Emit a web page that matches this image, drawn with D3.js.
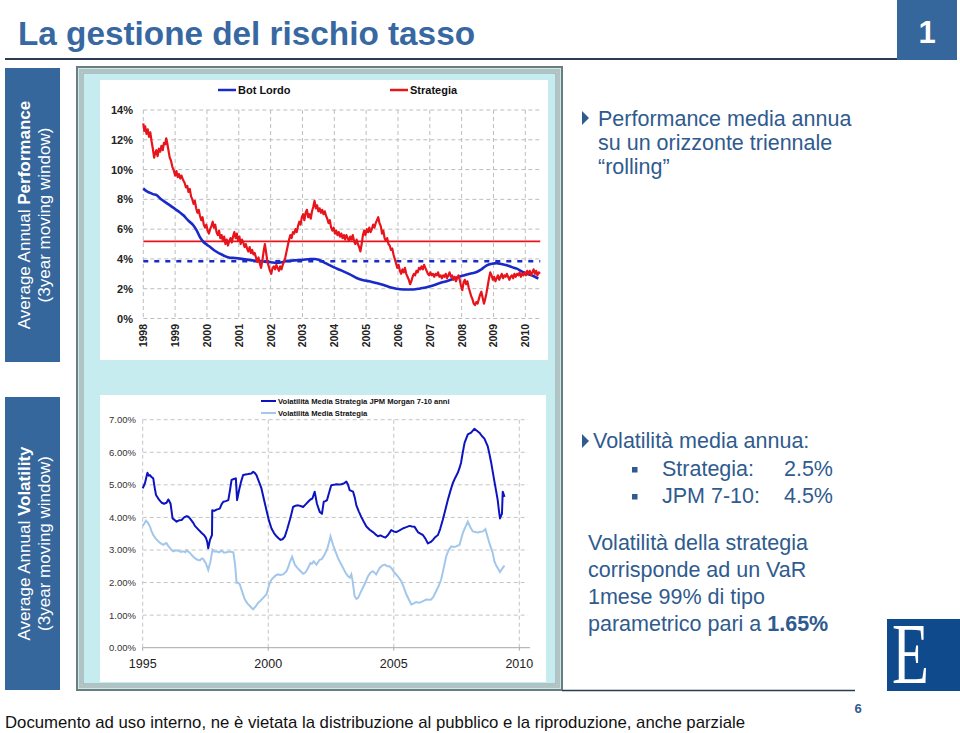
<!DOCTYPE html>
<html><head><meta charset="utf-8">
<script src="https://cdn.jsdelivr.net/npm/d3@7"></script>
<style>
html,body{margin:0;padding:0;background:#fff;}
svg{display:block;}
</style></head>
<body>
<svg id="c" width="960" height="733" font-family="'Liberation Sans',Arial,sans-serif"></svg>
<script>
// ---------- DATA ----------
const perfYears = [1998,1999,2000,2001,2002,2003,2004,2005,2006,2007,2008,2009,2010];
const perfTicks = [0,2,4,6,8,10,12,14];
const perfLegend = ["Bot Lordo","Strategia"];
const strategiaMean = 5.18;
const botMean = 3.84;
const botLordo = [[1998.00,8.73],[1998.10,8.55],[1998.20,8.45],[1998.30,8.35],[1998.42,8.28],[1998.55,8.02],[1998.70,7.80],[1998.84,7.60],[1999.00,7.35],[1999.13,7.15],[1999.26,6.93],[1999.40,6.60],[1999.57,6.26],[1999.68,5.90],[1999.78,5.47],[1999.90,5.12],[2000.00,4.95],[2000.10,4.80],[2000.25,4.55],[2000.41,4.35],[2000.55,4.20],[2000.72,4.08],[2000.88,4.06],[2001.04,4.02],[2001.20,3.97],[2001.36,3.92],[2001.55,3.88],[2001.77,3.83],[2002.00,3.78],[2002.19,3.74],[2002.35,3.78],[2002.50,3.86],[2002.75,3.90],[2003.03,3.95],[2003.20,3.98],[2003.39,4.00],[2003.52,3.93],[2003.66,3.79],[2003.85,3.58],[2004.08,3.35],[2004.30,3.15],[2004.49,2.96],[2004.70,2.72],[2004.91,2.57],[2005.10,2.50],[2005.33,2.38],[2005.55,2.25],[2005.75,2.10],[2005.95,2.00],[2006.17,1.95],[2006.48,1.95],[2006.70,2.02],[2006.90,2.10],[2007.10,2.22],[2007.32,2.38],[2007.55,2.52],[2007.74,2.67],[2007.95,2.82],[2008.16,2.96],[2008.32,3.04],[2008.47,3.12],[2008.62,3.30],[2008.79,3.57],[2008.95,3.68],[2009.10,3.72],[2009.25,3.66],[2009.42,3.57],[2009.58,3.45],[2009.73,3.35],[2009.90,3.15],[2010.05,3.00],[2010.25,2.85],[2010.41,2.67]];
const strategia = [[1998.00,13.1],[1998.03,12.6],[1998.06,12.9],[1998.10,12.4],[1998.14,12.7],[1998.18,12.2],[1998.22,12.5],[1998.26,11.9],[1998.30,11.4],[1998.34,10.8],[1998.37,11.1],[1998.41,11.3],[1998.45,10.9],[1998.49,11.4],[1998.53,11.2],[1998.57,11.6],[1998.61,11.3],[1998.65,11.8],[1998.69,11.7],[1998.72,12.1],[1998.75,11.8],[1998.79,11.3],[1998.83,10.8],[1998.87,10.6],[1998.91,10.2],[1998.95,10.0],[1999.00,9.6],[1999.04,9.9],[1999.08,9.5],[1999.12,9.7],[1999.16,9.4],[1999.20,9.6],[1999.25,9.3],[1999.30,9.1],[1999.34,8.8],[1999.38,8.9],[1999.42,8.5],[1999.46,8.7],[1999.50,8.2],[1999.54,8.0],[1999.58,7.7],[1999.62,7.9],[1999.66,7.4],[1999.70,7.1],[1999.74,7.3],[1999.78,6.9],[1999.82,6.6],[1999.86,6.8],[1999.90,6.3],[1999.94,6.1],[1999.98,6.3],[2000.02,5.9],[2000.06,5.7],[2000.10,6.0],[2000.14,6.2],[2000.18,6.5],[2000.22,6.1],[2000.26,6.3],[2000.30,5.8],[2000.34,5.6],[2000.38,5.9],[2000.42,5.4],[2000.46,5.6],[2000.50,5.2],[2000.54,5.5],[2000.58,5.0],[2000.62,5.3],[2000.66,4.9],[2000.70,5.2],[2000.74,5.4],[2000.78,5.1],[2000.82,5.5],[2000.86,5.8],[2000.90,5.4],[2000.94,5.7],[2000.98,5.2],[2001.02,5.5],[2001.06,5.0],[2001.10,5.3],[2001.14,5.1],[2001.18,4.8],[2001.22,5.0],[2001.26,4.7],[2001.30,4.5],[2001.34,4.8],[2001.38,4.4],[2001.42,4.6],[2001.46,4.3],[2001.50,4.4],[2001.54,4.1],[2001.58,3.8],[2001.62,4.1],[2001.66,3.7],[2001.70,3.4],[2001.74,3.9],[2001.78,4.5],[2001.82,5.0],[2001.86,4.4],[2001.90,3.8],[2001.94,3.5],[2001.98,3.2],[2002.02,3.0],[2002.06,3.4],[2002.10,3.5],[2002.14,3.3],[2002.18,3.6],[2002.22,3.4],[2002.26,3.2],[2002.30,3.5],[2002.34,3.3],[2002.38,3.6],[2002.42,3.8],[2002.46,4.1],[2002.50,4.5],[2002.54,4.9],[2002.58,5.3],[2002.62,5.6],[2002.66,5.4],[2002.70,5.8],[2002.74,5.7],[2002.78,6.0],[2002.82,5.8],[2002.86,6.2],[2002.90,6.5],[2002.94,6.3],[2002.98,6.8],[2003.02,7.0],[2003.06,6.6],[2003.10,7.1],[2003.14,7.3],[2003.18,6.8],[2003.22,7.0],[2003.26,6.7],[2003.30,7.2],[2003.34,7.5],[2003.38,7.9],[2003.42,7.4],[2003.46,7.6],[2003.50,7.2],[2003.54,7.4],[2003.58,7.1],[2003.62,7.3],[2003.66,7.0],[2003.70,7.2],[2003.74,6.9],[2003.78,6.7],[2003.82,6.4],[2003.86,6.6],[2003.90,6.1],[2003.94,5.9],[2003.98,6.1],[2004.02,5.7],[2004.06,5.9],[2004.10,5.6],[2004.14,5.8],[2004.18,5.5],[2004.22,5.7],[2004.26,5.4],[2004.30,5.6],[2004.34,5.3],[2004.38,5.6],[2004.42,5.4],[2004.46,5.2],[2004.50,5.5],[2004.54,5.3],[2004.58,5.6],[2004.62,5.2],[2004.66,5.0],[2004.70,5.3],[2004.74,5.0],[2004.78,4.8],[2004.82,4.5],[2004.86,5.0],[2004.90,5.6],[2004.94,5.9],[2004.98,5.6],[2005.02,6.0],[2005.06,5.8],[2005.10,6.1],[2005.14,5.8],[2005.18,6.0],[2005.22,6.3],[2005.26,6.1],[2005.30,6.4],[2005.34,6.6],[2005.38,6.8],[2005.42,6.4],[2005.46,6.2],[2005.50,5.7],[2005.54,5.9],[2005.58,5.4],[2005.62,5.2],[2005.66,5.4],[2005.70,5.0],[2005.74,4.9],[2005.78,4.6],[2005.82,4.7],[2005.86,4.3],[2005.90,4.0],[2005.94,3.7],[2005.98,3.4],[2006.02,3.6],[2006.06,3.2],[2006.10,3.0],[2006.14,3.3],[2006.18,3.1],[2006.22,3.4],[2006.26,3.0],[2006.30,2.8],[2006.34,2.6],[2006.38,2.3],[2006.42,2.5],[2006.46,2.8],[2006.50,3.0],[2006.54,2.9],[2006.58,3.2],[2006.62,3.1],[2006.66,3.4],[2006.70,3.3],[2006.74,3.5],[2006.78,3.3],[2006.82,3.6],[2006.86,3.4],[2006.90,3.2],[2006.94,3.0],[2006.98,2.9],[2007.02,3.1],[2007.06,2.9],[2007.10,3.0],[2007.14,2.8],[2007.18,3.0],[2007.22,2.9],[2007.26,3.1],[2007.30,2.8],[2007.34,2.9],[2007.38,2.7],[2007.42,2.9],[2007.46,2.8],[2007.50,3.0],[2007.54,2.7],[2007.58,2.9],[2007.62,3.1],[2007.66,2.8],[2007.70,2.9],[2007.74,2.6],[2007.78,2.8],[2007.82,2.5],[2007.86,2.7],[2007.90,2.9],[2007.94,2.6],[2007.98,2.2],[2008.02,1.9],[2008.06,2.4],[2008.10,2.6],[2008.14,2.3],[2008.18,2.5],[2008.22,2.1],[2008.26,1.8],[2008.30,1.5],[2008.34,1.3],[2008.38,1.0],[2008.42,0.9],[2008.46,1.1],[2008.50,1.0],[2008.54,1.3],[2008.58,1.6],[2008.62,1.8],[2008.66,1.4],[2008.70,1.0],[2008.74,1.3],[2008.78,1.7],[2008.82,2.2],[2008.86,2.7],[2008.90,3.1],[2008.94,2.9],[2008.98,2.6],[2009.02,2.8],[2009.06,2.5],[2009.10,2.7],[2009.14,2.9],[2009.18,2.6],[2009.22,2.8],[2009.26,3.0],[2009.30,2.7],[2009.34,2.9],[2009.38,2.8],[2009.42,3.0],[2009.46,2.8],[2009.50,2.6],[2009.54,2.8],[2009.58,2.9],[2009.62,2.7],[2009.66,3.0],[2009.70,2.8],[2009.74,3.0],[2009.78,2.9],[2009.82,3.1],[2009.86,2.8],[2009.90,3.0],[2009.94,2.9],[2009.98,3.1],[2010.02,2.9],[2010.06,3.2],[2010.10,3.0],[2010.14,3.2],[2010.18,2.9],[2010.22,3.1],[2010.26,3.3],[2010.30,3.0],[2010.34,3.2],[2010.38,2.9],[2010.42,3.1],[2010.46,3.0]];

const volYears = [1995,2000,2005,2010];
const volTicks = [0,1,2,3,4,5,6,7];
const volLegend = ["Volatilità Media Strategia JPM Morgan 7-10 anni","Volatilità Media Strategia"];
const volJPM = [[1995.00,4.89],[1995.05,4.98],[1995.09,5.05],[1995.14,5.22],[1995.19,5.37],[1995.24,5.28],[1995.29,5.30],[1995.35,5.24],[1995.42,5.20],[1995.48,4.90],[1995.53,4.69],[1995.62,4.58],[1995.70,4.50],[1995.76,4.45],[1995.85,4.42],[1995.95,4.45],[1996.02,4.55],[1996.06,4.50],[1996.11,4.42],[1996.19,3.97],[1996.27,3.92],[1996.35,3.87],[1996.45,3.91],[1996.55,3.92],[1996.65,4.00],[1996.75,4.04],[1996.82,4.02],[1996.88,3.97],[1997.00,3.85],[1997.08,3.74],[1997.20,3.64],[1997.35,3.52],[1997.45,3.45],[1997.52,3.37],[1997.57,3.25],[1997.61,3.05],[1997.65,3.20],[1997.68,3.31],[1997.76,3.46],[1997.77,4.22],[1997.85,4.20],[1997.94,4.24],[1998.07,4.27],[1998.14,4.40],[1998.21,4.48],[1998.31,4.50],[1998.41,4.53],[1998.48,4.85],[1998.54,5.15],[1998.63,5.18],[1998.71,5.20],[1998.76,4.53],[1998.84,4.84],[1998.92,5.10],[1999.00,5.30],[1999.10,5.32],[1999.20,5.33],[1999.33,5.35],[1999.40,5.40],[1999.47,5.36],[1999.53,5.30],[1999.63,5.10],[1999.73,4.89],[1999.83,4.55],[1999.93,4.22],[2000.03,3.90],[2000.13,3.66],[2000.23,3.52],[2000.33,3.42],[2000.41,3.36],[2000.49,3.31],[2000.57,3.33],[2000.66,3.41],[2000.76,3.65],[2000.86,3.92],[2000.92,4.10],[2000.99,4.32],[2001.09,4.36],[2001.19,4.37],[2001.29,4.35],[2001.39,4.32],[2001.49,4.40],[2001.59,4.48],[2001.68,4.55],[2001.76,4.58],[2001.85,4.79],[2001.94,4.42],[2002.05,4.17],[2002.14,4.11],[2002.21,4.48],[2002.28,4.50],[2002.34,4.53],[2002.42,4.75],[2002.51,4.99],[2002.61,5.00],[2002.71,5.02],[2002.81,5.01],[2002.91,5.02],[2003.01,5.04],[2003.11,5.10],[2003.18,5.00],[2003.24,4.84],[2003.38,4.79],[2003.45,4.60],[2003.51,4.37],[2003.61,4.18],[2003.71,4.01],[2003.81,3.86],[2003.91,3.72],[2004.04,3.62],[2004.17,3.55],[2004.27,3.48],[2004.37,3.42],[2004.47,3.45],[2004.57,3.41],[2004.67,3.38],[2004.77,3.46],[2004.90,3.61],[2005.00,3.57],[2005.10,3.55],[2005.23,3.60],[2005.36,3.66],[2005.50,3.70],[2005.63,3.74],[2005.73,3.72],[2005.83,3.71],[2005.96,3.55],[2006.06,3.50],[2006.16,3.46],[2006.26,3.35],[2006.36,3.20],[2006.46,3.24],[2006.56,3.31],[2006.66,3.40],[2006.76,3.46],[2006.85,3.65],[2006.95,3.92],[2007.05,4.22],[2007.15,4.53],[2007.25,4.80],[2007.35,5.05],[2007.45,5.22],[2007.55,5.37],[2007.62,5.52],[2007.68,5.68],[2007.75,6.00],[2007.82,6.29],[2007.95,6.55],[2008.08,6.60],[2008.21,6.72],[2008.31,6.66],[2008.41,6.60],[2008.51,6.50],[2008.61,6.42],[2008.74,6.19],[2008.81,5.95],[2008.88,5.68],[2009.01,5.10],[2009.08,4.80],[2009.14,4.53],[2009.19,4.20],[2009.23,3.97],[2009.31,4.12],[2009.34,4.79],[2009.38,4.70],[2009.41,4.63]];
const volStrat = [[1995.00,3.74],[1995.07,3.82],[1995.13,3.90],[1995.21,3.83],[1995.29,3.72],[1995.35,3.58],[1995.42,3.46],[1995.52,3.35],[1995.62,3.27],[1995.72,3.20],[1995.82,3.16],[1995.90,3.20],[1995.95,3.21],[1996.02,3.12],[1996.09,3.06],[1996.15,3.00],[1996.22,2.96],[1996.32,2.99],[1996.42,2.98],[1996.52,2.94],[1996.62,2.96],[1996.70,2.93],[1996.75,2.99],[1996.88,2.91],[1996.98,2.82],[1997.08,2.75],[1997.18,2.70],[1997.28,2.68],[1997.35,2.74],[1997.41,2.72],[1997.51,2.60],[1997.61,2.39],[1997.70,2.65],[1997.78,3.01],[1997.86,2.95],[1997.94,2.96],[1998.04,2.93],[1998.14,2.98],[1998.24,2.92],[1998.34,2.93],[1998.47,2.95],[1998.61,2.93],[1998.68,2.55],[1998.74,1.99],[1998.80,2.00],[1998.87,1.94],[1998.97,1.70],[1999.07,1.48],[1999.17,1.36],[1999.27,1.28],[1999.34,1.22],[1999.40,1.18],[1999.50,1.27],[1999.60,1.38],[1999.70,1.45],[1999.80,1.53],[1999.93,1.64],[2000.04,1.94],[2000.12,2.08],[2000.20,2.15],[2000.30,2.22],[2000.39,2.25],[2000.49,2.23],[2000.59,2.25],[2000.73,2.35],[2000.80,2.48],[2000.86,2.63],[2000.95,2.79],[2001.06,2.55],[2001.16,2.45],[2001.26,2.37],[2001.39,2.27],[2001.47,2.30],[2001.55,2.39],[2001.62,2.50],[2001.68,2.60],[2001.74,2.58],[2001.81,2.65],[2001.92,2.55],[2002.05,2.70],[2002.13,2.72],[2002.21,2.81],[2002.34,3.01],[2002.41,3.20],[2002.48,3.42],[2002.58,3.16],[2002.68,2.95],[2002.78,2.75],[2002.88,2.60],[2002.98,2.45],[2003.08,2.30],[2003.18,2.19],[2003.25,2.15],[2003.31,2.25],[2003.36,2.05],[2003.44,1.58],[2003.51,1.50],[2003.58,1.53],[2003.68,1.70],[2003.77,1.84],[2003.87,2.00],[2003.97,2.19],[2004.07,2.30],[2004.17,2.35],[2004.30,2.25],[2004.44,2.45],[2004.54,2.52],[2004.64,2.55],[2004.74,2.50],[2004.83,2.50],[2004.93,2.42],[2005.03,2.30],[2005.17,2.18],[2005.30,2.04],[2005.40,1.85],[2005.50,1.64],[2005.60,1.48],[2005.70,1.33],[2005.80,1.36],[2005.89,1.40],[2005.99,1.38],[2006.09,1.40],[2006.19,1.44],[2006.29,1.48],[2006.39,1.47],[2006.49,1.48],[2006.59,1.58],[2006.69,1.74],[2006.79,1.90],[2006.89,2.10],[2006.99,2.45],[2007.09,2.81],[2007.19,3.00],[2007.29,3.11],[2007.39,3.09],[2007.49,3.11],[2007.62,3.16],[2007.69,3.35],[2007.75,3.52],[2007.85,3.70],[2007.95,3.87],[2008.05,3.70],[2008.15,3.57],[2008.25,3.55],[2008.35,3.54],[2008.45,3.56],[2008.55,3.57],[2008.65,3.64],[2008.73,3.42],[2008.81,3.21],[2008.88,3.05],[2008.94,2.91],[2009.01,2.65],[2009.08,2.52],[2009.14,2.45],[2009.23,2.32],[2009.34,2.45],[2009.41,2.52]];

// ---------- DRAW ----------
const svg = d3.select("#c");
const BLUE = "#35669c", TXT = "#2f5b8e", DARK = "#2a3b52";
const NARROW = "'Liberation Sans Narrow','Arial Narrow','Liberation Sans',sans-serif";

// Title
svg.append("text").attr("x",18).attr("y",45).attr("font-family",NARROW)
  .attr("font-weight","bold").attr("font-size",33).attr("fill","#3768a1")
  .attr("textLength",457).attr("lengthAdjust","spacingAndGlyphs").text("La gestione del rischio tasso");
svg.append("line").attr("x1",5).attr("x2",897).attr("y1",59).attr("y2",59).attr("stroke",DARK).attr("stroke-width",2);
svg.append("rect").attr("x",897).attr("y",0).attr("width",60).attr("height",60).attr("fill",BLUE);
svg.append("text").attr("x",927).attr("y",43).attr("text-anchor","middle").attr("font-weight","bold").attr("font-size",31).attr("fill","#fff").text("1");

// Left panels
function sidePanel(y0, h, normal, bold) {
  svg.append("rect").attr("x",5).attr("y",y0).attr("width",55).attr("height",h).attr("fill",BLUE);
  const cy = y0 + h/2;
  const t1 = svg.append("text").attr("transform",`translate(30,${cy}) rotate(-90)`).attr("text-anchor","middle")
    .attr("font-size",17).attr("fill","#fff");
  t1.append("tspan").text(normal);
  t1.append("tspan").attr("font-weight","bold").text(bold);
  svg.append("text").attr("transform",`translate(50,${cy}) rotate(-90)`).attr("text-anchor","middle")
    .attr("font-size",17).attr("fill","#fff").text("(3year moving window)");
}
sidePanel(68, 294, "Average Annual ", "Performance");
sidePanel(397, 293, "Average Annual ", "Volatility");

// Chart frame
svg.append("rect").attr("x",77).attr("y",67).attr("width",485).attr("height",623).attr("fill","#c6ecf0").attr("stroke","#6d7d7d").attr("stroke-width",2);
svg.append("rect").attr("x",80.5).attr("y",70.5).attr("width",478).attr("height",616).attr("fill","none").attr("stroke","#b3c3c3").attr("stroke-width",3);
svg.append("rect").attr("x",83).attr("y",73).attr("width",473).attr("height",611).attr("fill","none").attr("stroke","#8e9e9e").attr("stroke-width",1);
svg.append("rect").attr("x",100).attr("y",80).attr("width",448).attr("height",280).attr("fill","#fff");
svg.append("rect").attr("x",100).attr("y",395).attr("width",446).attr("height",287).attr("fill","#fff");

// ---- Top chart ----
const x1 = d3.scaleLinear().domain([1998,2010]).range([143.3,525.3]);
const y1 = d3.scaleLinear().domain([0,14]).range([318.5,110]);
const g1 = svg.append("g");
g1.selectAll(".hg").data(perfTicks).join("line").attr("x1",x1(1998)).attr("x2",x1(2010.47))
  .attr("y1",d=>y1(d)).attr("y2",d=>y1(d)).attr("stroke","#bdbdbd").attr("stroke-dasharray","4,3");
g1.selectAll(".vg").data(perfYears).join("line").attr("x1",d=>x1(d)).attr("x2",d=>x1(d))
  .attr("y1",y1(14)).attr("y2",y1(0)).attr("stroke","#bdbdbd").attr("stroke-dasharray","4,3");
g1.selectAll(".yl").data(perfTicks).join("text").attr("x",133).attr("y",d=>y1(d)+4).attr("text-anchor","end")
  .attr("font-size",11).attr("font-weight","bold").attr("fill","#222").text(d=>d+"%");
g1.selectAll(".xl").data(perfYears).join("text").attr("transform",d=>`translate(${x1(d)+4},324) rotate(-90)`)
  .attr("text-anchor","end").attr("font-size",10.5).attr("font-weight","bold").attr("fill","#222").text(d=>d);
g1.append("line").attr("x1",x1(1998)).attr("x2",x1(2010.47)).attr("y1",y1(strategiaMean)).attr("y2",y1(strategiaMean))
  .attr("stroke","#e8141c").attr("stroke-width",1.8);
g1.append("line").attr("x1",x1(1998)).attr("x2",x1(2010.47)).attr("y1",y1(botMean)).attr("y2",y1(botMean))
  .attr("stroke","#1a2ac8").attr("stroke-width",2.5).attr("stroke-dasharray","5,6");
g1.append("path").datum(botLordo).attr("d",d3.line().x(d=>x1(d[0])).y(d=>y1(d[1])).curve(d3.curveMonotoneX))
  .attr("fill","none").attr("stroke","#1a2ac8").attr("stroke-width",2.6);
g1.append("path").datum(strategia).attr("d",d3.line().x(d=>x1(d[0])).y(d=>y1(d[1])))
  .attr("fill","none").attr("stroke","#e8141c").attr("stroke-width",2.2).attr("stroke-linejoin","round");
const legCol1 = ["#1a2ac8","#e8141c"], legX1 = [218,390];
perfLegend.forEach((s,i)=>{
  g1.append("line").attr("x1",legX1[i]).attr("x2",legX1[i]+18).attr("y1",90).attr("y2",90).attr("stroke",legCol1[i]).attr("stroke-width",2.5);
  g1.append("text").attr("x",legX1[i]+20).attr("y",94).attr("font-size",11).attr("font-weight","bold").attr("fill","#111").text(s);
});

// ---- Bottom chart ----
const x2 = d3.scaleLinear().domain([1995,2010]).range([142.7,519.3]);
const y2 = d3.scaleLinear().domain([0,7]).range([647.7,419.7]);
const g2 = svg.append("g");
g2.selectAll(".hg").data(volTicks.filter(d=>d>0)).join("line").attr("x1",x2(1995)).attr("x2",528)
  .attr("y1",d=>y2(d)).attr("y2",d=>y2(d)).attr("stroke","#c4c4c4").attr("stroke-dasharray","4,3");
g2.selectAll(".vg").data(volYears).join("line").attr("x1",d=>x2(d)).attr("x2",d=>x2(d))
  .attr("y1",y2(7)).attr("y2",y2(0)).attr("stroke","#c4c4c4").attr("stroke-dasharray","4,3");
g2.append("line").attr("x1",x2(1995)).attr("x2",530).attr("y1",y2(0)).attr("y2",y2(0)).attr("stroke","#a8a8a8").attr("stroke-width",1);
g2.selectAll(".tk").data(volYears).join("line").attr("x1",d=>x2(d)).attr("x2",d=>x2(d)).attr("y1",y2(0)).attr("y2",y2(0)+3).attr("stroke","#a8a8a8");
g2.selectAll(".yl").data(volTicks).join("text").attr("x",136).attr("y",d=>y2(d)+3.5).attr("text-anchor","end")
  .attr("font-size",9.5).attr("fill","#333").text(d=>d.toFixed(2)+"%");
g2.selectAll(".xl").data(volYears).join("text").attr("x",d=>x2(d)).attr("y",668).attr("text-anchor","middle")
  .attr("font-size",12.5).attr("fill","#222").text(d=>d);
const line2 = d3.line().x(d=>x2(d[0])).y(d=>y2(d[1]));
g2.append("path").datum(volStrat).attr("d",line2).attr("fill","none").attr("stroke","#a2c7ea").attr("stroke-width",2);
g2.append("path").datum(volJPM).attr("d",line2).attr("fill","none").attr("stroke","#0c14c0").attr("stroke-width",2).attr("stroke-linejoin","round");
const legCol2 = ["#0c14c0","#a2c7ea"], legY2 = [401,413];
volLegend.forEach((s,i)=>{
  g2.append("line").attr("x1",261).attr("x2",276).attr("y1",legY2[i]).attr("y2",legY2[i]).attr("stroke",legCol2[i]).attr("stroke-width",2);
  g2.append("text").attr("x",278).attr("y",legY2[i]+3).attr("font-size",7.6).attr("font-weight","bold").attr("fill","#111").text(s);
});

// ---- Right texts ----
function tri(x,y){ svg.append("path").attr("d",`M${x},${y-7} L${x+7},${y} L${x},${y+7} Z`).attr("fill",TXT); }
tri(582,118);
const rt1 = ["Performance media annua","su un orizzonte triennale","\u201Crolling\u201D"];
rt1.forEach((s,i)=> svg.append("text").attr("x",598).attr("y",126+i*24).attr("font-size",21.5).attr("fill",TXT).text(s));

tri(582,441);
svg.append("text").attr("x",593).attr("y",448).attr("font-size",21.5).attr("fill",TXT).text("Volatilità media annua:");
const bulLabels = ["Strategia:","JPM 7-10:"], bulVals = ["2.5%","4.5%"];
bulLabels.forEach((s,i)=>{
  const yb = 476 + i*27;
  svg.append("rect").attr("x",632).attr("y",yb-9).attr("width",5.5).attr("height",5.5).attr("fill",TXT);
  svg.append("text").attr("x",662).attr("y",yb).attr("font-size",21.5).attr("fill",TXT).text(s);
  svg.append("text").attr("x",833).attr("y",yb).attr("text-anchor","end").attr("font-size",21.5).attr("fill",TXT).text(bulVals[i]);
});
const rt2 = ["Volatilità della strategia","corrisponde ad un VaR","1mese 99% di tipo"];
rt2.forEach((s,i)=> svg.append("text").attr("x",588).attr("y",550+i*27).attr("font-size",21.5).attr("fill",TXT).text(s));
const lt = svg.append("text").attr("x",588).attr("y",631).attr("font-size",21.5).attr("fill",TXT);
lt.append("tspan").text("parametrico pari a ");
lt.append("tspan").attr("font-weight","bold").text("1.65%");

// Logo
svg.append("rect").attr("x",887).attr("y",619).attr("width",73).attr("height",72).attr("fill","#0f4b8c");
svg.append("text").attr("x",892).attr("y",683).attr("font-family","'Liberation Serif','DejaVu Serif','Times New Roman',serif")
  .attr("font-size",86).attr("fill","#fff").attr("textLength",37).attr("lengthAdjust","spacingAndGlyphs").text("E");

// Footer
svg.append("line").attr("x1",562).attr("x2",855).attr("y1",690.5).attr("y2",690.5).attr("stroke",DARK).attr("stroke-width",1.5);
svg.append("text").attr("x",858).attr("y",713).attr("text-anchor","middle").attr("font-size",13).attr("font-weight","bold").attr("fill",TXT).text("6");
svg.append("text").attr("x",5).attr("y",728).attr("font-family",NARROW)
  .attr("font-size",17).attr("fill","#111").attr("textLength",740).attr("lengthAdjust","spacingAndGlyphs")
  .text("Documento ad uso interno, ne è vietata la distribuzione al pubblico e la riproduzione, anche parziale");
</script>
</body></html>
